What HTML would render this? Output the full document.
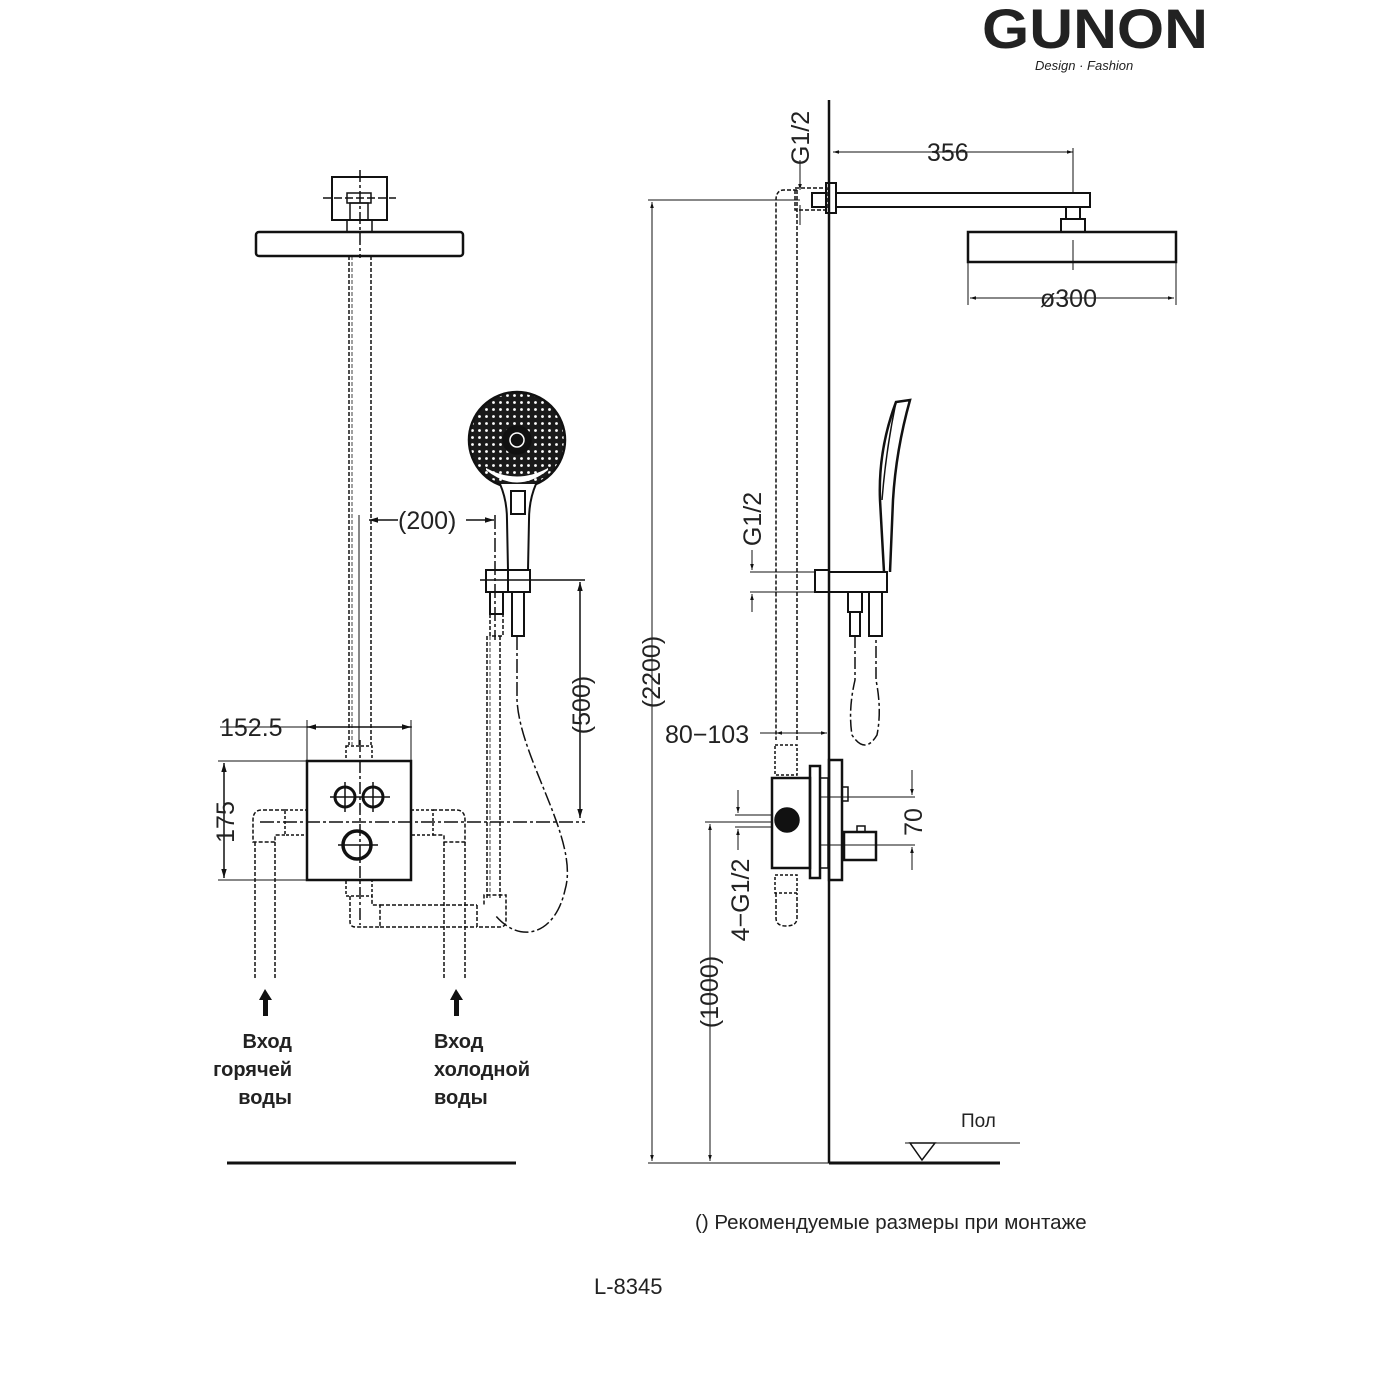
<!DOCTYPE html>
<html><head><meta charset="utf-8"><style>
html,body{margin:0;padding:0;background:#fff;}
svg{display:block;}
text{font-family:"Liberation Sans","DejaVu Sans",sans-serif;fill:#222;}
</style></head><body>
<svg width="1400" height="1400" viewBox="0 0 1400 1400" xmlns="http://www.w3.org/2000/svg">
<defs>
<marker id="a" viewBox="0 0 10 10" refX="10" refY="5" markerWidth="8" markerHeight="6" orient="auto-start-reverse"><path d="M0,2 L10,5 L0,8 z" fill="#111"/></marker>
<pattern id="dots" width="7" height="7" patternUnits="userSpaceOnUse"><rect width="7" height="7" fill="#1a1a1a"/><circle cx="3.5" cy="3.5" r="1.4" fill="#fff"/></pattern>
</defs>
<!-- Logo -->
<text x="982" y="48" font-size="56" font-weight="bold" font-family="Liberation Sans" textLength="226" lengthAdjust="spacingAndGlyphs" fill="#111">GUNON</text>
<text x="1035" y="70" font-size="13" font-style="italic" font-family="Liberation Serif">Design · Fashion</text>

<g stroke="#111" fill="none" stroke-width="1.5">
<!-- LEFT: rain head -->
<rect x="332" y="177" width="55" height="43" stroke-width="2"/>
<rect x="347" y="193" width="24" height="10"/>
<rect x="350" y="203" width="18" height="17"/>
<rect x="347" y="220" width="25" height="12"/>
<line x1="323" y1="198" x2="396" y2="198" stroke-dasharray="8,3"/>
<line x1="360" y1="170" x2="360" y2="258" stroke-dasharray="12,3,3,3"/>
<rect x="256" y="232" width="207" height="24" rx="3" stroke-width="2.5"/>
<line x1="349" y1="256" x2="349" y2="745" stroke-dasharray="4,2"/>
<line x1="371" y1="256" x2="371" y2="745" stroke-dasharray="4,2"/>
<line x1="352" y1="256" x2="352" y2="745" stroke-dasharray="4,2" stroke-width="0.8"/>
<line x1="359" y1="515" x2="359" y2="745" stroke-width="1"/>
<line x1="369" y1="520" x2="398" y2="520" marker-start="url(#a)"/>
<line x1="466" y1="520" x2="494" y2="520" marker-end="url(#a)"/>
<line x1="495" y1="515" x2="495" y2="640" stroke-dasharray="14,3,3,3"/>
<circle cx="517" cy="440" r="48" fill="url(#dots)" stroke-width="2.5"/>
<circle cx="517" cy="440" r="14" fill="#111"/>
<circle cx="517" cy="440" r="7" stroke="#fff" stroke-width="1.5"/>
<path d="M486,470 Q517,495 548,470 L548,468 Q517,485 486,468z" fill="#fff" stroke="none"/>
<path d="M500,484 Q507,500 507,520 L508,570 L528,570 L529,520 Q529,500 536,484" stroke-width="2" fill="#fff"/>
<rect x="511" y="491" width="14" height="23" stroke-width="2"/>
<rect x="486" y="570" width="22" height="22" stroke-width="2"/>
<rect x="508" y="570" width="22" height="22" stroke-width="2"/>
<line x1="480" y1="580" x2="585" y2="580"/>
<rect x="490" y="592" width="13" height="22" stroke-width="2"/>
<rect x="512" y="592" width="12" height="44" stroke-width="2"/>
<rect x="490" y="614" width="13" height="22" stroke-dasharray="4,2"/>
<line x1="487" y1="636" x2="487" y2="900" stroke-dasharray="4,2"/>
<line x1="500" y1="636" x2="500" y2="900" stroke-dasharray="4,2"/>
<line x1="490" y1="636" x2="490" y2="900" stroke-dasharray="4,2" stroke-width="0.8"/>
<path d="M517,636 L517,700 C520,760 580,840 565,890 C555,935 520,945 495,915" stroke-dasharray="14,3,3,3"/>
<line x1="580" y1="582" x2="580" y2="818" marker-start="url(#a)" marker-end="url(#a)"/>
<line x1="220" y1="727" x2="412" y2="727" stroke-width="1"/>
<line x1="307" y1="727" x2="411" y2="727" marker-start="url(#a)" marker-end="url(#a)"/>
<line x1="307" y1="720" x2="307" y2="761" stroke-width="1"/>
<line x1="411" y1="720" x2="411" y2="761" stroke-width="1"/>
<line x1="218" y1="761" x2="307" y2="761" stroke-width="1"/>
<line x1="218" y1="880" x2="307" y2="880" stroke-width="1"/>
<line x1="224" y1="763" x2="224" y2="878" marker-start="url(#a)" marker-end="url(#a)"/>
<rect x="307" y="761" width="104" height="119" stroke-width="2.5"/>
<rect x="346" y="746" width="26" height="15" stroke-dasharray="3,2"/>
<rect x="346" y="880" width="26" height="16" stroke-dasharray="3,2"/>
<line x1="360" y1="740" x2="360" y2="925" stroke-dasharray="12,3,3,3"/>
<circle cx="345" cy="797" r="10" stroke-width="3"/>
<circle cx="373" cy="797" r="10" stroke-width="3"/>
<line x1="330" y1="797" x2="390" y2="797"/>
<line x1="345" y1="782" x2="345" y2="812"/><line x1="373" y1="782" x2="373" y2="812"/>
<circle cx="357" cy="845" r="14" stroke-width="3.5"/>
<line x1="338" y1="845" x2="378" y2="845"/>
<line x1="260" y1="822" x2="585" y2="822" stroke-dasharray="14,3,3,3"/>
<rect x="285" y="810" width="22" height="25" stroke-dasharray="3,2"/>
<path d="M285,810 L262,810 Q253,810 253,820 L253,842 L275,842 L275,835 L285,835" stroke-dasharray="4,2"/>
<line x1="255" y1="842" x2="255" y2="980" stroke-dasharray="4,2"/>
<line x1="275" y1="842" x2="275" y2="980" stroke-dasharray="4,2"/>
<rect x="411" y="810" width="22" height="25" stroke-dasharray="3,2"/>
<path d="M433,810 L456,810 Q465,810 465,820 L465,842 L444,842 L444,835 L433,835" stroke-dasharray="4,2"/>
<line x1="444" y1="842" x2="444" y2="980" stroke-dasharray="4,2"/>
<line x1="465" y1="842" x2="465" y2="980" stroke-dasharray="4,2"/>
<path d="M350,896 L350,922 Q350,927 356,927 L380,927 L380,905 L372,905 L372,896" stroke-dasharray="4,2"/>
<line x1="380" y1="905" x2="477" y2="905" stroke-dasharray="4,2"/>
<line x1="380" y1="927" x2="477" y2="927" stroke-dasharray="4,2"/>
<path d="M477,905 L477,927 L500,927 Q506,927 506,920 L506,895 L484,895 L484,905" stroke-dasharray="4,2"/>
<line x1="227" y1="1163" x2="516" y2="1163" stroke-width="3"/>

<!-- RIGHT -->
<line x1="829" y1="100" x2="829" y2="1163" stroke-width="2.5"/>
<line x1="829" y1="1163" x2="1000" y2="1163" stroke-width="3"/>
<line x1="648" y1="1163" x2="829" y2="1163" stroke-width="1"/>
<line x1="905" y1="1143" x2="1020" y2="1143" stroke-width="1"/>
<path d="M910,1143 L935,1143 L922,1160 z" stroke-width="1.5"/>
<line x1="648" y1="200" x2="800" y2="200" stroke-width="1"/>
<line x1="652" y1="202" x2="652" y2="1161" marker-start="url(#a)" marker-end="url(#a)" stroke-width="1"/>
<line x1="705" y1="822" x2="772" y2="822" stroke-width="1"/>
<line x1="710" y1="824" x2="710" y2="1161" marker-start="url(#a)" marker-end="url(#a)" stroke-width="1"/>
<rect x="826" y="183" width="10" height="30" stroke-width="2"/>
<rect x="836" y="193" width="254" height="14" stroke-width="2"/>
<rect x="812" y="193" width="14" height="14" stroke-width="2"/>
<line x1="1073" y1="148" x2="1073" y2="193" stroke-width="1"/>
<line x1="833" y1="152" x2="1073" y2="152" marker-start="url(#a)" marker-end="url(#a)" stroke-width="1"/>
<rect x="1066" y="207" width="14" height="12" stroke-width="2"/>
<rect x="1061" y="219" width="24" height="13" stroke-width="2"/>
<rect x="968" y="232" width="208" height="30" stroke-width="2.5"/>
<line x1="968" y1="262" x2="968" y2="305" stroke-width="1"/>
<line x1="1176" y1="262" x2="1176" y2="305" stroke-width="1"/>
<line x1="1073" y1="240" x2="1073" y2="270" stroke-width="1"/>
<line x1="970" y1="298" x2="1174" y2="298" marker-start="url(#a)" marker-end="url(#a)" stroke-width="1"/>
<line x1="800" y1="160" x2="800" y2="190" marker-end="url(#a)" stroke-width="1"/>
<line x1="800" y1="205" x2="800" y2="225" stroke-width="1"/>
<path d="M797,190 L784,190 Q776,190 776,200 L776,740" stroke-dasharray="4,2"/>
<line x1="797" y1="190" x2="797" y2="740" stroke-dasharray="4,2"/>
<rect x="795" y="188" width="32" height="22" stroke-dasharray="4,2"/>
<path d="M884,572 L880,500 Q878,450 896,402 L910,400 Q896,450 893,500 L890,572" stroke-width="2.5"/>
<path d="M896,402 Q886,450 882,500" stroke-width="1.5"/>
<rect x="829" y="572" width="58" height="20" stroke-width="2"/>
<rect x="815" y="570" width="14" height="22" stroke-width="2"/>
<line x1="750" y1="572" x2="815" y2="572" stroke-width="1"/>
<line x1="750" y1="592" x2="815" y2="592" stroke-width="1"/>
<line x1="752" y1="550" x2="752" y2="570" marker-end="url(#a)" stroke-width="1"/>
<line x1="752" y1="612" x2="752" y2="594" marker-end="url(#a)" stroke-width="1"/>
<rect x="848" y="592" width="14" height="20" stroke-width="2"/>
<rect x="850" y="612" width="10" height="24" stroke-width="2"/>
<rect x="869" y="592" width="13" height="44" stroke-width="2"/>
<path d="M855,636 L855,680 Q848,710 852,735 Q865,755 877,735 Q882,710 876,680 L876,636" stroke-dasharray="12,3,3,3"/>
<line x1="760" y1="733" x2="776" y2="733" stroke-width="1"/>
<line x1="776" y1="733" x2="827" y2="733" marker-start="url(#a)" marker-end="url(#a)" stroke-width="1"/>
<rect x="775" y="745" width="22" height="30" stroke-dasharray="3,2"/>
<rect x="772" y="778" width="38" height="90" stroke-width="2.5"/>
<rect x="810" y="766" width="10" height="112" stroke-width="2.5"/>
<rect x="820" y="778" width="8" height="90" stroke-width="1.5"/>
<rect x="829" y="760" width="13" height="120" stroke-width="2.5"/>
<rect x="842" y="787" width="6" height="14" stroke-width="1.5"/>
<circle cx="787" cy="820" r="12" fill="#111"/>
<rect x="844" y="832" width="32" height="28" stroke-width="2.5"/>
<rect x="857" y="826" width="8" height="6" stroke-width="1.5"/>
<line x1="820" y1="797" x2="915" y2="797" stroke-width="1"/>
<line x1="820" y1="845" x2="915" y2="845" stroke-width="1"/>
<line x1="912" y1="770" x2="912" y2="795" marker-end="url(#a)" stroke-width="1"/>
<line x1="912" y1="870" x2="912" y2="847" marker-end="url(#a)" stroke-width="1"/>
<line x1="735" y1="815" x2="772" y2="815" stroke-width="1"/>
<line x1="735" y1="827" x2="772" y2="827" stroke-width="1"/>
<line x1="738" y1="790" x2="738" y2="813" marker-end="url(#a)" stroke-width="1"/>
<line x1="738" y1="850" x2="738" y2="829" marker-end="url(#a)" stroke-width="1"/>
<rect x="775" y="875" width="22" height="18" stroke-dasharray="3,2"/>
<path d="M776,893 L776,918 Q776,926 786,926 Q797,926 797,918 L797,893" stroke-dasharray="4,2"/>
</g>

<path d="M265,989 L259,1000 L263,1000 L263,1016 L268,1016 L268,1000 L272,1000 z" fill="#111"/>
<path d="M456,989 L450,1000 L454,1000 L454,1016 L459,1016 L459,1000 L463,1000 z" fill="#111"/>

<g font-size="25">
<text x="398" y="529">(200)</text>
<text x="220" y="736">152.5</text>
<text transform="translate(234,822) rotate(-90)" text-anchor="middle">175</text>
<text transform="translate(590,705) rotate(-90)" text-anchor="middle">(500)</text>
<text x="927" y="161">356</text>
<text x="1040" y="307">ø300</text>
<text transform="translate(660,672) rotate(-90)" text-anchor="middle">(2200)</text>
<text transform="translate(718,992) rotate(-90)" text-anchor="middle">(1000)</text>
<text x="665" y="743">80−103</text>
<text transform="translate(809,138) rotate(-90)" text-anchor="middle">G1/2</text>
<text transform="translate(761,519) rotate(-90)" text-anchor="middle">G1/2</text>
<text transform="translate(749,900) rotate(-90)" text-anchor="middle">4−G1/2</text>
<text transform="translate(922,822) rotate(-90)" text-anchor="middle">70</text>
</g>
<g font-size="20" font-weight="bold">
<text x="292" y="1048" text-anchor="end">Вход</text>
<text x="292" y="1076" text-anchor="end">горячей</text>
<text x="292" y="1104" text-anchor="end">воды</text>
<text x="434" y="1048">Вход</text>
<text x="434" y="1076">холодной</text>
<text x="434" y="1104">воды</text>
</g>
<text x="961" y="1127" font-size="19">Пол</text>
<text x="695" y="1229" font-size="20.5">() Рекомендуемые размеры при монтаже</text>
<text x="594" y="1294" font-size="22">L-8345</text>
</svg>
</body></html>
